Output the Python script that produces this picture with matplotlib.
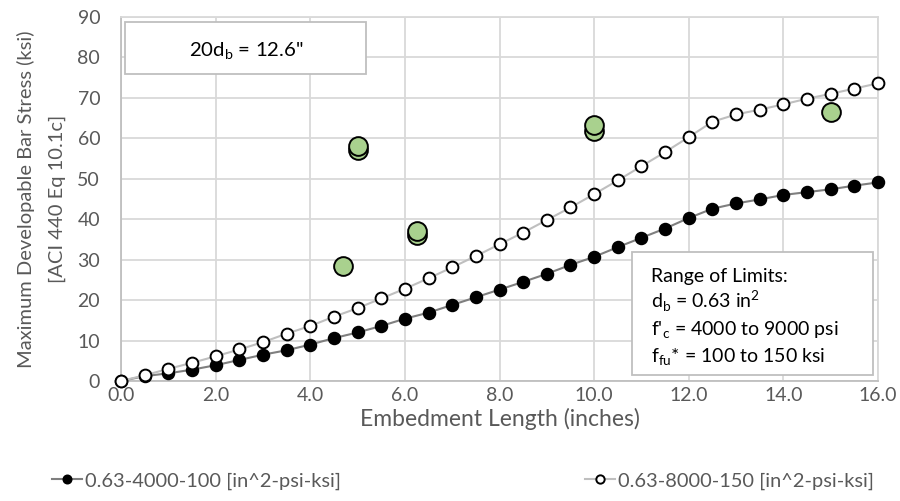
import matplotlib
matplotlib.use("Agg")
import matplotlib.pyplot as plt
from matplotlib.patches import Rectangle

plt.rcParams['font.family'] = ['Lato', 'DejaVu Sans']
plt.rcParams['mathtext.fontset'] = 'custom'
plt.rcParams['mathtext.rm'] = 'Lato'

# Embedment lengths (inches)
embed_len = [0.0, 0.5, 1.0, 1.5, 2.0, 2.5, 3.0, 3.5, 4.0, 4.5, 5.0, 5.5, 6.0, 6.5,
             7.0, 7.5, 8.0, 8.5, 9.0, 9.5, 10.0, 10.5, 11.0, 11.5, 12.0, 12.5,
             13.0, 13.5, 14.0, 14.5, 15.0, 15.5, 16.0]

# Max developable stress (ksi), 0.63 in^2 / 4000 psi / 100 ksi
stress_low = [0.0, 1.2, 1.9, 2.8, 3.9, 5.2, 6.5, 7.6, 9.0, 10.6, 12.0, 13.6, 15.4,
              16.9, 18.8, 20.7, 22.6, 24.5, 26.5, 28.7, 30.7, 33.1, 35.4, 37.7,
              40.3, 42.6, 43.9, 44.9, 46.0, 46.7, 47.4, 48.3, 49.1]

# Max developable stress (ksi), 0.63 in^2 / 8000 psi / 150 ksi
stress_high = [0.0, 1.4, 3.0, 4.5, 6.1, 7.8, 9.6, 11.7, 13.6, 15.9, 18.0, 20.4,
               22.8, 25.4, 28.1, 30.9, 33.8, 36.7, 39.8, 42.9, 46.2, 49.6, 53.1,
               56.6, 60.3, 64.1, 65.9, 67.1, 68.4, 69.8, 71.0, 72.3, 73.6]

# Test results
test_len = [4.7, 5.0, 5.0, 6.25, 6.25, 10.0, 10.0, 15.0]
test_stress = [28.4, 57.0, 58.0, 36.0, 37.2, 61.8, 63.2, 66.4]

x_ticks = [0, 2, 4, 6, 8, 10, 12, 14, 16]
y_ticks = [0, 10, 20, 30, 40, 50, 60, 70, 80, 90]

label_low = "0.63-4000-100 [in^2-psi-ksi]"
label_high = "0.63-8000-150 [in^2-psi-ksi]"

text_col = "#595959"
grid_col = "#d9d9d9"

W, H = 900, 501
fig = plt.figure(figsize=(W / 100, H / 100), dpi=100)
L, R, T, B = 121, 878, 17, 381
ax = fig.add_axes([L / W, 1 - B / H, (R - L) / W, (B - T) / H])


def ax_frac(px, py):
    """Pixel position in the figure -> axes fraction."""
    return (px - L) / (R - L), (B - py) / (B - T)


ax.set_xlim(0, 16)
ax.set_ylim(0, 90)
ax.set_xticks(x_ticks)
ax.set_xticklabels([f"{v:.1f}" for v in x_ticks])
ax.set_yticks(y_ticks)
ax.grid(True, color=grid_col, linewidth=1.3)
ax.set_axisbelow(True)
for s in ax.spines.values():
    s.set_color(grid_col)
    s.set_linewidth(1.3)
ax.spines['left'].set_color("#bfbfbf")
ax.spines['bottom'].set_color("#bfbfbf")
ax.tick_params(length=0, labelsize=14, colors=text_col)
ax.tick_params(axis='y', pad=15)
ax.tick_params(axis='x', pad=4)

l_low, = ax.plot(embed_len, stress_low, color="#7f7f7f", lw=1.5, marker='o',
                 markersize=8.5, markerfacecolor='black', markeredgecolor='black',
                 markeredgewidth=1.2, clip_on=False, zorder=3, label=label_low)
l_high, = ax.plot(embed_len, stress_high, color="#bfbfbf", lw=1.5, marker='o',
                  markersize=8.5, markerfacecolor='white', markeredgecolor='black',
                  markeredgewidth=1.4, clip_on=False, zorder=4, label=label_high)
ax.plot(test_len, test_stress, linestyle='none', marker='o', markersize=13.5,
        markerfacecolor="#a9d18e", markeredgecolor='black', markeredgewidth=1.4,
        clip_on=False, zorder=5)

# Axis titles
fig.text((L + R) / 2 / W, 1 - 419 / H, "Embedment Length (inches)", fontsize=16.5,
         color=text_col, ha='center', va='center')
fig.text(26 / W, 1 - 199 / H, "Maximum Developable Bar Stress (ksi)", fontsize=14.5,
         color=text_col, ha='center', va='center', rotation=90)
fig.text(57 / W, 1 - 199 / H, "[ACI 440 Eq 10.1c]", fontsize=14.5,
         color=text_col, ha='center', va='center', rotation=90)

# 20 d_b annotation box
x0, y0 = ax_frac(125, 74)
x1, y1 = ax_frac(366, 22)
ax.add_patch(Rectangle((x0, y0), x1 - x0, y1 - y0, transform=ax.transAxes,
                       fc='white', ec='#bfbfbf', lw=1.3, zorder=5.5, clip_on=False))
tx, ty = ax_frac(246, 57)
ax.text(tx, ty, r'20d$_\mathregular{b}$ = 12.6"', transform=ax.transAxes,
        ha='center', va='baseline', fontsize=14.7, color='black', zorder=6)

# Range of limits box
x0, y0 = ax_frac(632, 375)
x1, y1 = ax_frac(873, 252)
ax.add_patch(Rectangle((x0, y0), x1 - x0, y1 - y0, transform=ax.transAxes,
                       fc='white', ec='#bfbfbf', lw=1.3, zorder=5.5, clip_on=False))
lines = ["Range of Limits:",
         r"d$_\mathregular{b}$ = 0.63 in$^\mathregular{2}$",
         r"f'$_\mathregular{c}$ = 4000 to 9000 psi",
         r"f$_\mathregular{fu}$* = 100 to 150 ksi"]
baselines = [282, 309, 336, 363]
for t, yp in zip(lines, baselines):
    tx, ty = ax_frac(651, yp)
    ax.text(tx, ty, t, transform=ax.transAxes, ha='left', va='baseline',
            fontsize=14, color='black', zorder=6)

leg = fig.legend(handles=[l_low, l_high], loc='center', ncol=2,
                 bbox_to_anchor=(463 / W, 1 - 481 / H), frameon=False, fontsize=14.4,
                 handlelength=1.5, columnspacing=12.2, handletextpad=0.15)
for t in leg.get_texts():
    t.set_color(text_col)
for h in leg.legend_handles:
    h.set_markersize(6)

fig.savefig("out.png", dpi=100)
